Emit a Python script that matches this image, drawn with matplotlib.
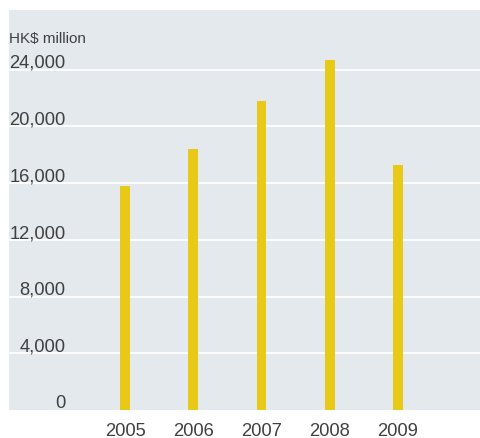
import matplotlib
matplotlib.use("Agg")
import matplotlib.pyplot as plt

years = ["2005", "2006", "2007", "2008", "2009"]
values = [15800, 18400, 21800, 24700, 17300]
grid_ticks = [0, 4000, 8000, 12000, 16000, 20000, 24000]
unit_label = "HK$ million"

W, H = 481, 439
fig = plt.figure(figsize=(W / 100, H / 100), dpi=100)
fig.patch.set_facecolor("white")

# plot panel in pixel terms
left, top, right, bottom = 9, 11, 481, 411
ax = fig.add_axes([left / W, 1 - bottom / H, (right - left) / W, (bottom - top) / H])
ax.set_facecolor("#E4E9EE")
for s in ax.spines.values():
    s.set_visible(False)

x = list(range(len(years)))
ax.bar(x, values, width=0.146, color="#E8C918", zorder=3)

ax.set_xlim(-1.70, 4 + 1.216)
ax.set_ylim(0, 28200)

text_kw = dict(family="Liberation Sans", color="#404040")
for t in grid_ticks:
    if t > 0:
        ax.axhline(t, color="white", lw=1.3, zorder=2)
    ax.annotate(f"{t:,}", xy=(0.12, t), xycoords=("axes fraction", "data"),
                xytext=(0, 2.0), textcoords="offset points",
                ha="right", va="baseline", fontsize=13.2, **text_kw)

ax.annotate(unit_label, xy=(0.0, 24000), xycoords=("axes fraction", "data"),
            xytext=(0, 19.5), textcoords="offset points",
            ha="left", va="baseline", fontsize=11, **text_kw)

ax.set_xticks(x)
ax.set_xticklabels(years, fontsize=13.2, **text_kw)
ax.tick_params(axis="x", length=0, pad=8.5)
ax.set_yticks([])

fig.savefig("out.png", dpi=100, facecolor="white")
